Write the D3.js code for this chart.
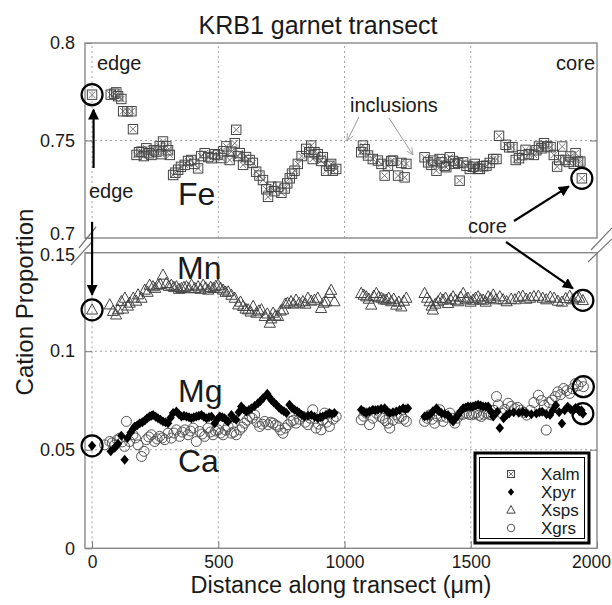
<!DOCTYPE html>
<html><head><meta charset="utf-8">
<script src="https://cdn.jsdelivr.net/npm/d3@7"></script>
<style>body{margin:0;background:#fff}svg{display:block}text{font-family:"Liberation Sans",Arial,sans-serif;fill:#1a1a1a}</style>
</head><body><svg id="c" width="612" height="605"></svg>
<script>
// ---- data (distance in µm, cation proportion) ----
const feX=[0,74,88,96,103,116,123,140,156,162,176,186,196,205,215,225,235,245,255,268,275,281,294,301,308,321,330,341,352,367,380,393,405,420,432,446,460,473,486,499,512,520,532,545,552,565,571,578,585,598,610,624,637,650,663,677,690,697,710,722,737,750,763,773,783,792,802,815,830,848,860,868,874,881,894,907,914,927,940,947,954,967,1066,1073,1080,1093,1112,1132,1146,1159,1172,1185,1192,1212,1225,1238,1245,1317,1331,1344,1351,1364,1377,1384,1397,1403,1417,1430,1437,1450,1456,1470,1483,1496,1509,1516,1529,1536,1549,1562,1575,1589,1602,1612,1638,1652,1665,1678,1691,1704,1717,1730,1750,1760,1770,1780,1790,1803,1816,1829,1842,1850,1862,1875,1888,1895,1908,1915,1925,1934,1940];
const feV=[0.7735,0.7735,0.7740,0.7747,0.7727,0.7713,0.7650,0.7650,0.7650,0.7558,0.7426,0.7440,0.7443,0.7420,0.7460,0.7435,0.7426,0.7450,0.7443,0.7470,0.7430,0.7495,0.7470,0.7450,0.7426,0.7323,0.7335,0.7350,0.7365,0.7375,0.7395,0.7400,0.7380,0.7357,0.7420,0.7435,0.7415,0.7409,0.7430,0.7426,0.7410,0.7445,0.7470,0.7400,0.7443,0.7486,0.7555,0.7420,0.7435,0.7375,0.7415,0.7400,0.7385,0.7340,0.7320,0.7297,0.7250,0.7211,0.7263,0.7240,0.7263,0.7232,0.7254,0.7280,0.7306,0.7330,0.7345,0.7380,0.7420,0.7457,0.7440,0.7474,0.7405,0.7440,0.7430,0.7395,0.7414,0.7345,0.7370,0.7380,0.7345,0.7354,0.7440,0.7474,0.7455,0.7423,0.7405,0.7397,0.7380,0.7320,0.7371,0.7395,0.7397,0.7320,0.7385,0.7311,0.7380,0.7414,0.7388,0.7375,0.7397,0.7345,0.7405,0.7388,0.7370,0.7363,0.7414,0.7395,0.7380,0.7385,0.7294,0.7388,0.7370,0.7354,0.7365,0.7380,0.7355,0.7354,0.7368,0.7371,0.7385,0.7405,0.7405,0.7524,0.7478,0.7465,0.7466,0.7400,0.7409,0.7425,0.7452,0.7430,0.7426,0.7450,0.7469,0.7460,0.7486,0.7470,0.7466,0.7426,0.7366,0.7400,0.7469,0.7400,0.7390,0.7418,0.7380,0.7435,0.7392,0.7392,0.7306];
const mnX=[0,70,83,95,103,116,123,130,142,149,163,175,182,196,209,220,228,241,250,261,270,281,294,304,314,324,334,344,354,364,374,384,394,407,420,430,440,450,460,470,480,490,499,509,519,529,539,552,565,579,588,598,608,618,628,638,651,661,671,684,694,704,710,717,727,737,747,757,765,774,788,798,808,821,835,845,855,868,881,894,907,917,927,940,947,960,1066,1076,1086,1096,1106,1116,1126,1136,1146,1155,1165,1175,1185,1195,1205,1215,1225,1235,1245,1317,1327,1337,1345,1350,1360,1370,1380,1390,1400,1410,1420,1430,1440,1450,1460,1470,1480,1489,1499,1509,1519,1529,1539,1549,1559,1569,1579,1589,1600,1615,1628,1642,1660,1675,1690,1706,1720,1735,1750,1768,1785,1799,1815,1830,1845,1861,1876,1892,1905,1918,1930,1944];
const mnV=[0.1210,0.1236,0.1203,0.1185,0.1211,0.1253,0.1215,0.1270,0.1230,0.1245,0.1270,0.1255,0.1287,0.1270,0.1311,0.1300,0.1336,0.1328,0.1320,0.1336,0.1340,0.1387,0.1345,0.1330,0.1336,0.1325,0.1328,0.1315,0.1319,0.1325,0.1328,0.1318,0.1336,0.1319,0.1328,0.1315,0.1336,0.1322,0.1311,0.1325,0.1319,0.1330,0.1336,0.1320,0.1311,0.1300,0.1302,0.1285,0.1270,0.1236,0.1250,0.1228,0.1215,0.1211,0.1200,0.1228,0.1194,0.1205,0.1211,0.1177,0.1190,0.1143,0.1165,0.1194,0.1180,0.1177,0.1205,0.1211,0.1240,0.1245,0.1252,0.1240,0.1260,0.1245,0.1252,0.1240,0.1270,0.1255,0.1260,0.1270,0.1218,0.1245,0.1252,0.1294,0.1310,0.1252,0.1294,0.1285,0.1277,0.1265,0.1235,0.1280,0.1294,0.1275,0.1270,0.1262,0.1260,0.1270,0.1252,0.1265,0.1235,0.1250,0.1226,0.1255,0.1270,0.1294,0.1270,0.1252,0.1230,0.1210,0.1240,0.1252,0.1268,0.1260,0.1270,0.1243,0.1262,0.1277,0.1260,0.1252,0.1275,0.1294,0.1262,0.1270,0.1250,0.1260,0.1270,0.1277,0.1262,0.1260,0.1250,0.1277,0.1268,0.1286,0.1262,0.1277,0.1262,0.1252,0.1265,0.1262,0.1275,0.1280,0.1265,0.1270,0.1278,0.1280,0.1270,0.1262,0.1275,0.1270,0.1255,0.1250,0.1268,0.1280,0.1262,0.1275,0.1270,0.1258];
const mgX=[0,74,90,103,116,129,140,153,162,169,179,189,199,209,218,228,235,242,252,261,271,281,291,301,311,321,334,344,354,364,374,384,393,403,413,423,433,443,453,463,473,486,496,506,516,525,532,539,552,561,571,581,591,601,611,621,631,644,657,667,677,694,702,710,720,730,740,750,760,770,782,792,802,812,821,830,840,855,868,881,894,904,914,927,940,950,960,1066,1076,1086,1099,1112,1122,1132,1145,1159,1169,1179,1192,1205,1218,1232,1242,1251,1317,1327,1337,1350,1364,1374,1384,1397,1410,1420,1430,1440,1450,1460,1470,1480,1489,1499,1509,1519,1529,1539,1549,1559,1569,1579,1589,1605,1615,1630,1642,1652,1670,1690,1706,1720,1740,1760,1772,1783,1800,1814,1825,1837,1850,1861,1872,1884,1895,1907,1915,1923,1930,1938,1944];
const mgV=[0.0520,0.0492,0.0510,0.0530,0.0571,0.0449,0.0560,0.0588,0.0605,0.0618,0.0625,0.0635,0.0640,0.0649,0.0660,0.0669,0.0672,0.0677,0.0668,0.0660,0.0652,0.0644,0.0640,0.0635,0.0662,0.0686,0.0694,0.0680,0.0669,0.0672,0.0669,0.0665,0.0660,0.0665,0.0669,0.0672,0.0677,0.0668,0.0660,0.0665,0.0669,0.0635,0.0655,0.0669,0.0665,0.0660,0.0650,0.0644,0.0677,0.0660,0.0652,0.0690,0.0720,0.0705,0.0694,0.0702,0.0711,0.0722,0.0736,0.0748,0.0762,0.0784,0.0768,0.0753,0.0740,0.0728,0.0715,0.0703,0.0695,0.0686,0.0728,0.0712,0.0703,0.0695,0.0686,0.0678,0.0669,0.0672,0.0677,0.0668,0.0660,0.0665,0.0669,0.0678,0.0686,0.0680,0.0686,0.0703,0.0694,0.0686,0.0695,0.0703,0.0700,0.0703,0.0708,0.0711,0.0695,0.0686,0.0690,0.0694,0.0702,0.0711,0.0705,0.0711,0.0669,0.0673,0.0677,0.0695,0.0711,0.0695,0.0686,0.0682,0.0677,0.0660,0.0644,0.0660,0.0677,0.0695,0.0711,0.0715,0.0720,0.0718,0.0720,0.0724,0.0728,0.0724,0.0720,0.0718,0.0720,0.0695,0.0669,0.0693,0.0610,0.0660,0.0677,0.0684,0.0690,0.0688,0.0693,0.0685,0.0680,0.0684,0.0690,0.0693,0.0680,0.0676,0.0700,0.0726,0.0690,0.0633,0.0700,0.0718,0.0705,0.0701,0.0712,0.0709,0.0695,0.0701,0.0683];
const caX=[50,70,80,90,100,110,120,129,136,149,162,172,182,196,206,215,225,235,248,258,268,278,288,301,314,324,334,347,357,367,380,390,400,413,426,436,446,459,469,479,489,499,509,519,529,539,552,562,571,585,595,604,614,624,634,644,654,664,674,684,697,707,717,727,737,746,756,766,776,788,798,808,821,835,845,855,864,874,887,897,907,914,921,930,940,955,967,1066,1076,1086,1099,1112,1126,1139,1152,1162,1172,1179,1192,1205,1215,1225,1235,1245,1317,1327,1337,1347,1357,1367,1377,1384,1390,1404,1417,1427,1437,1446,1456,1470,1483,1493,1503,1512,1522,1532,1542,1552,1562,1572,1582,1592,1602,1609,1622,1635,1648,1660,1675,1686,1698,1710,1721,1735,1750,1768,1780,1791,1799,1810,1822,1835,1845,1856,1868,1880,1892,1903,1915,1925,1938,1946];
const caV=[0.0525,0.0542,0.0535,0.0525,0.0550,0.0559,0.0540,0.0517,0.0644,0.0542,0.0576,0.0560,0.0525,0.0466,0.0492,0.0551,0.0565,0.0576,0.0542,0.0555,0.0568,0.0560,0.0551,0.0584,0.0559,0.0585,0.0601,0.0568,0.0590,0.0601,0.0576,0.0595,0.0610,0.0542,0.0593,0.0580,0.0568,0.0610,0.0590,0.0576,0.0595,0.0601,0.0585,0.0576,0.0600,0.0618,0.0584,0.0590,0.0576,0.0601,0.0615,0.0635,0.0650,0.0669,0.0660,0.0677,0.0640,0.0618,0.0630,0.0644,0.0627,0.0640,0.0635,0.0625,0.0618,0.0600,0.0584,0.0610,0.0627,0.0644,0.0650,0.0635,0.0655,0.0669,0.0640,0.0627,0.0660,0.0703,0.0610,0.0630,0.0601,0.0650,0.0686,0.0640,0.0618,0.0655,0.0669,0.0652,0.0670,0.0686,0.0627,0.0660,0.0686,0.0670,0.0660,0.0648,0.0635,0.0610,0.0650,0.0677,0.0660,0.0669,0.0655,0.0644,0.0644,0.0660,0.0677,0.0655,0.0635,0.0670,0.0703,0.0670,0.0644,0.0665,0.0686,0.0660,0.0635,0.0660,0.0677,0.0680,0.0686,0.0680,0.0677,0.0682,0.0686,0.0675,0.0669,0.0680,0.0686,0.0680,0.0677,0.0700,0.0770,0.0728,0.0686,0.0705,0.0736,0.0720,0.0709,0.0715,0.0701,0.0690,0.0676,0.0700,0.0740,0.0777,0.0750,0.0726,0.0600,0.0740,0.0752,0.0770,0.0794,0.0780,0.0811,0.0800,0.0786,0.0810,0.0836,0.0825,0.0845,0.0820];
const xTicks=[0,500,1000,1500,2000];
const topTicks=[0.7,0.75,0.8];
const botTicks=[0,0.05,0.1,0.15];
const legendNames=["Xalm","Xpyr","Xsps","Xgrs"];

// ---- scales ----
const svg=d3.select("#c");
const L=85,R=597;
const x=d3.scaleLinear().domain([-28,2000]).range([L,R]);
const yT=d3.scaleLinear().domain([0.7,0.8]).range([238,43]);
const yB=d3.scaleLinear().domain([0,0.15]).range([548.3,252.7]);

const defs=svg.append("defs");
defs.append("marker").attr("id","ab").attr("viewBox","0 0 10 10").attr("refX",9).attr("refY",5)
 .attr("markerWidth",5).attr("markerHeight",5).attr("orient","auto-start-reverse")
 .append("path").attr("d","M0,0L10,5L0,10z").attr("fill","#000");
defs.append("marker").attr("id","ag").attr("viewBox","0 0 10 10").attr("refX",9).attr("refY",5)
 .attr("markerWidth",8).attr("markerHeight",8).attr("orient","auto")
 .append("path").attr("d","M0,1L9,5L0,9").attr("fill","none").attr("stroke","#999").attr("stroke-width",1);

// ---- grids ----
const grid=svg.append("g").attr("stroke","#9a9a9a").attr("stroke-width",0.9).attr("stroke-dasharray","2,3");
[[yT,0.7,0.8],[yB,0,0.15]].forEach(([ys,a,b])=>{
  xTicks.filter(t=>t<2000).forEach(t=>grid.append("line").attr("x1",x(t)).attr("x2",x(t)).attr("y1",ys(a)).attr("y2",ys(b)));
});
grid.append("line").attr("x1",L).attr("x2",R).attr("y1",yT(0.75)).attr("y2",yT(0.75));
[0.05,0.1].forEach(v=>grid.append("line").attr("x1",L).attr("x2",R).attr("y1",yB(v)).attr("y2",yB(v)));

// ---- axes ----
function styleAxis(g){g.select(".domain").remove();g.selectAll(".tick line").attr("stroke","#777");
  g.selectAll(".tick text").attr("font-size",18).attr("fill","#1a1a1a").attr("font-family","Liberation Sans, Arial, sans-serif");}
const gTop=svg.append("g").attr("transform",`translate(${L},0)`).call(d3.axisLeft(yT).tickValues(topTicks).tickFormat(d3.format("")).tickSize(-7).tickPadding(10)).call(styleAxis);
gTop.selectAll(".tick text").filter(d=>d===0.7).attr("dy","0.1em");
const gBot=svg.append("g").attr("transform",`translate(${L},0)`).call(d3.axisLeft(yB).tickValues(botTicks).tickFormat(d3.format("")).tickSize(-7).tickPadding(10)).call(styleAxis);
gBot.selectAll(".tick text").filter(d=>d===0.15).attr("dy","0.45em");
svg.append("g").attr("transform",`translate(${R},0)`).call(d3.axisRight(yT).tickValues([0.75]).tickFormat("").tickSize(-7)).call(styleAxis);
svg.append("g").attr("transform",`translate(${R},0)`).call(d3.axisRight(yB).tickValues([0.05,0.1]).tickFormat("").tickSize(-7)).call(styleAxis);
const gX=svg.append("g").attr("transform",`translate(0,${yB(0)})`).call(d3.axisBottom(x).tickValues(xTicks).tickFormat(d3.format("")).tickSize(-7).tickPadding(7)).call(styleAxis);
gX.selectAll(".tick text").attr("font-size",17.5).filter(d=>d===2000).attr("dx",-6);

// ---- frames ----
const fr=svg.append("g").attr("fill","none").attr("stroke","#888").attr("stroke-width",1.4);
fr.append("rect").attr("x",L).attr("y",yT(0.8)).attr("width",R-L).attr("height",yT(0.7)-yT(0.8));
fr.append("rect").attr("x",L).attr("y",yB(0.15)).attr("width",R-L).attr("height",yB(0)-yB(0.15));
// axis break marks
const br=svg.append("g").attr("stroke","#777").attr("stroke-width",1.2);
[[79,248,96,227],[71,265,92,242],[588,262,612,239],[591,250,612,228]].forEach(d=>br.append("line").attr("x1",d[0]).attr("y1",d[1]).attr("x2",d[2]).attr("y2",d[3]));

// ---- symbols ----
function almSym(g,s){g.append("rect").attr("x",-4.7*s).attr("y",-4.7*s).attr("width",9.4*s).attr("height",9.4*s).attr("fill","none").attr("stroke","#444").attr("stroke-width",1);
  g.append("path").attr("d",`M${-3.2*s},${-3.2*s}L${3.2*s},${3.2*s}M${3.2*s},${-3.2*s}L${-3.2*s},${3.2*s}`).attr("stroke","#666").attr("stroke-width",0.9);}
function pyrSym(g,s){g.append("path").attr("d",`M0,${-5*s}L${4.2*s},0L0,${5*s}L${-4.2*s},0Z`).attr("fill","#000");}
function spsSym(g,s){g.append("path").attr("d",`M0,${-6*s}L${5.6*s},${4.2*s}L${-5.6*s},${4.2*s}Z`).attr("fill","none").attr("stroke","#444").attr("stroke-width",1);}
function grsSym(g,s){g.append("circle").attr("r",5*s).attr("fill","none").attr("stroke","#555").attr("stroke-width",1);}

function plot(xs,vs,ys,fn){
  const g=svg.append("g");
  xs.forEach((d,i)=>{const p=g.append("g").attr("transform",`translate(${x(d)},${ys(vs[i])})`);fn(p,1);});
}
plot(feX,feV,yT,almSym);
plot(mnX,mnV,yB,spsSym);
plot(caX,caV,yB,grsSym);
plot(mgX,mgV,yB,pyrSym);

// ---- highlight circles (edge / core) ----
const hc=svg.append("g").attr("fill","none").attr("stroke","#000").attr("stroke-width",2.2);
const last=a=>a[a.length-1];
[[feX[0],yT(feV[0])],[mnX[0],yB(mnV[0])],[mgX[0],yB(mgV[0])],
 [last(feX),yT(last(feV))],[last(mnX),yB(last(mnV))],[last(mgX),yB(last(mgV))],[last(caX),yB(last(caV))]]
 .forEach(([a,b])=>hc.append("circle").attr("cx",x(a)).attr("cy",b).attr("r",10.5));

// ---- arrows ----
const ar=svg.append("g").attr("stroke","#000").attr("stroke-width",2.2);
ar.append("line").attr("x1",x(0)+1.5).attr("y1",168).attr("x2",x(0)+1.5).attr("y2",yT(feV[0])+15).attr("marker-end","url(#ab)");
ar.append("line").attr("x1",x(0)).attr("y1",222).attr("x2",x(0)).attr("y2",yB(mnV[0])-15).attr("marker-end","url(#ab)");
ar.append("line").attr("x1",514).attr("y1",221).attr("x2",x(last(feX))-13).attr("y2",yT(last(feV))+8).attr("marker-end","url(#ab)");
ar.append("line").attr("x1",506).attr("y1",242).attr("x2",x(last(mnX))-10).attr("y2",yB(last(mnV))-12).attr("marker-end","url(#ab)");
const ag=svg.append("g").attr("stroke","#999").attr("stroke-width",1);
ag.append("line").attr("x1",359).attr("y1",117).attr("x2",347).attr("y2",141).attr("marker-end","url(#ag)");
ag.append("line").attr("x1",389).attr("y1",118).attr("x2",413).attr("y2",155).attr("marker-end","url(#ag)");

// ---- texts ----
function t(s,xx,yy,fs,anc){return svg.append("text").attr("x",xx).attr("y",yy).attr("font-size",fs).attr("text-anchor",anc||"start").text(s);}
t("KRB1 garnet transect",318,34,25,"middle");
t("Distance along transect (μm)",341,593,23.5,"middle");
svg.append("text").attr("transform","translate(33,302) rotate(-90)").attr("font-size",24).attr("text-anchor","middle").text("Cation Proportion");
t("edge",97,70,20);
t("core",595,70,20,"end");
t("edge",89,198,20);
t("inclusions",350,112,20);
t("core",468,233,20);
t("Fe",178,205,32);
t("Mn",177,279,32);
t("Mg",178,402,32);
t("Ca",178,472,32);

// ---- legend ----
const lg=svg.append("g");
lg.append("rect").attr("x",475).attr("y",453).attr("width",114).attr("height",90).attr("fill","#fff").attr("stroke","#000").attr("stroke-width",3);
lg.append("rect").attr("x",479.5).attr("y",457.5).attr("width",105).attr("height",81).attr("fill","none").attr("stroke","#000").attr("stroke-width",1);
const fns=[almSym,pyrSym,spsSym,grsSym];
legendNames.forEach((n,i)=>{const yy=474+i*18;
  fns[i](lg.append("g").attr("transform",`translate(511,${yy})`),0.75);
  lg.append("text").attr("x",541).attr("y",yy+6).attr("font-size",17).text(n);});
</script></body></html>
